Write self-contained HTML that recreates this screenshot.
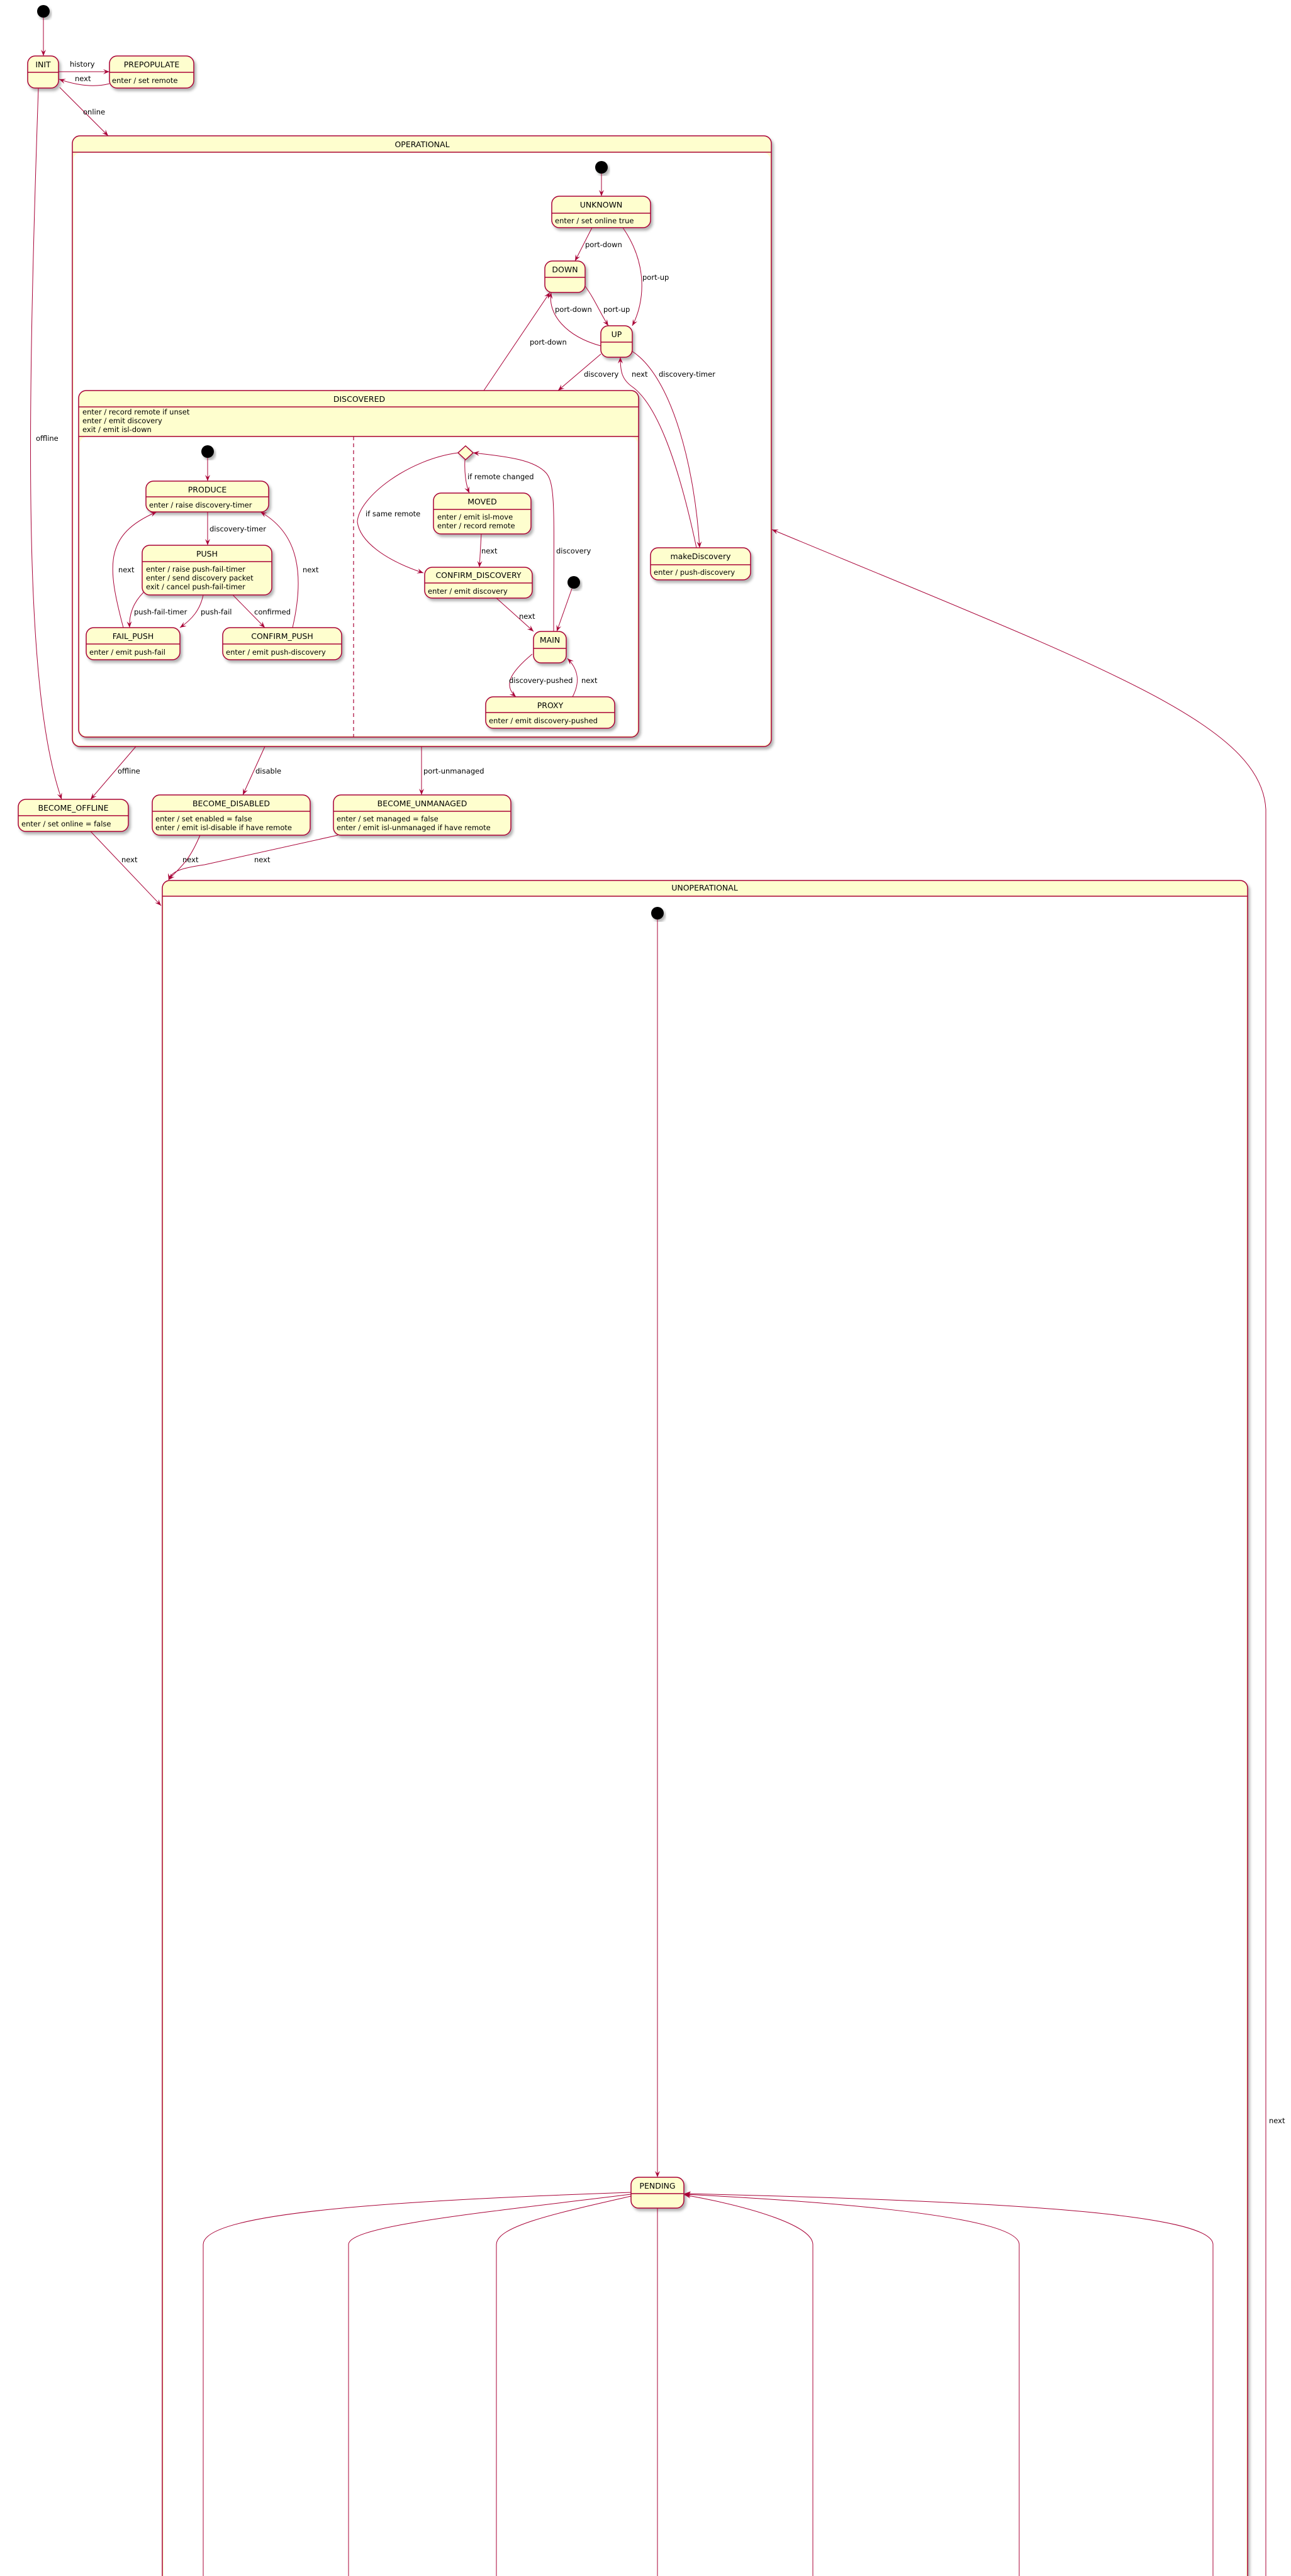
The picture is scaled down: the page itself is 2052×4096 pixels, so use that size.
<!DOCTYPE html>
<html><head><meta charset="utf-8"><style>
html,body{margin:0;padding:0;background:#fff;}
svg{display:block;}
text{font-family:"DejaVu Sans","Liberation Sans",sans-serif;font-size:11.5px;fill:#000;}
.b{fill:#FEFECE;stroke:#A80036;stroke-width:1.5;}
.l{stroke:#A80036;stroke-width:1.5;fill:none;}
.e{stroke:#A80036;stroke-width:1;fill:none;}
.t{font-size:12.5px;}
</style></head><body>
<svg width="2052" height="4096" viewBox="0 0 2052 4096" xmlns="http://www.w3.org/2000/svg">
<defs>
<filter id="sh" x="-10%" y="-10%" width="130%" height="130%"><feDropShadow dx="3" dy="4" stdDeviation="2" flood-color="#000" flood-opacity="0.3"/></filter>
<marker id="a" viewBox="0 0 10 8" refX="10" refY="4" markerWidth="10" markerHeight="8" orient="auto" markerUnits="userSpaceOnUse"><path d="M0,0 L10,4 L0,8 L4,4 z" fill="#A80036"/></marker>
</defs>

<!-- top start -->
<circle cx="69" cy="18" r="10" fill="#000" filter="url(#sh)"/>
<path class="e" d="M69,28 L69,89" marker-end="url(#a)"/>

<!-- INIT -->
<g filter="url(#sh)"><rect class="b" x="44" y="89" width="49" height="51" rx="12"/></g>
<line class="l" x1="44" y1="115" x2="93" y2="115"/>
<text class="t" x="68.5" y="107" text-anchor="middle">INIT</text>

<!-- PREPOPULATE -->
<g filter="url(#sh)"><rect class="b" x="174" y="89" width="134" height="51" rx="12"/></g>
<line class="l" x1="174" y1="115" x2="308" y2="115"/>
<text class="t" x="241" y="107" text-anchor="middle">PREPOPULATE</text>
<text x="178" y="132">enter / set remote</text>

<path class="e" d="M93,114 L174,114" marker-end="url(#a)"/>
<text x="111" y="106">history</text>
<path class="e" d="M174,133 Q140,142 94,126" marker-end="url(#a)"/>
<text x="119" y="129">next</text>

<path class="e" d="M95,139 L172,216" marker-end="url(#a)"/>
<text x="132" y="182">online</text>

<path class="e" d="M61,140 C42,700 38,1100 98,1271" marker-end="url(#a)"/>
<text x="57" y="701">offline</text>

<!-- OPERATIONAL -->
<g filter="url(#sh)"><rect class="b" x="115" y="216" width="1111" height="971" rx="12"/></g>
<rect x="117" y="243" width="1107" height="942" rx="10" fill="#fff"/>
<line class="l" x1="115" y1="242" x2="1226" y2="242"/>
<text class="t" x="671" y="234" text-anchor="middle">OPERATIONAL</text>

<circle cx="956" cy="266" r="10" fill="#000" filter="url(#sh)"/>
<path class="e" d="M956,276 L956,312" marker-end="url(#a)"/>

<g filter="url(#sh)"><rect class="b" x="877" y="312" width="157" height="50" rx="12"/></g>
<line class="l" x1="877" y1="339" x2="1034" y2="339"/>
<text class="t" x="955.5" y="330" text-anchor="middle">UNKNOWN</text>
<text x="882" y="355">enter / set online true</text>

<g filter="url(#sh)"><rect class="b" x="866" y="415" width="64" height="50" rx="12"/></g>
<line class="l" x1="866" y1="441" x2="930" y2="441"/>
<text class="t" x="898" y="433" text-anchor="middle">DOWN</text>

<g filter="url(#sh)"><rect class="b" x="955" y="518" width="50" height="50" rx="12"/></g>
<line class="l" x1="955" y1="544" x2="1005" y2="544"/>
<text class="t" x="980" y="536" text-anchor="middle">UP</text>

<g filter="url(#sh)"><rect class="b" x="1034" y="871" width="159" height="51" rx="12"/></g>
<line class="l" x1="1034" y1="898" x2="1193" y2="898"/>
<text class="t" x="1113.5" y="889" text-anchor="middle">makeDiscovery</text>
<text x="1039" y="914">enter / push-discovery</text>

<path class="e" d="M941,362 L914,415" marker-end="url(#a)"/>
<text x="930" y="393">port-down</text>
<path class="e" d="M990,362 C1030,420 1025,480 1005,518" marker-end="url(#a)"/>
<text x="1021" y="445">port-up</text>
<path class="e" d="M930,455 C945,475 955,500 967,518" marker-end="url(#a)"/>
<text x="959" y="496">port-up</text>
<path class="e" d="M955,550 C900,535 870,500 876,465" marker-end="url(#a)"/>
<text x="882" y="496">port-down</text>
<path class="e" d="M769,621 L874,465" marker-end="url(#a)"/>
<text x="842" y="548">port-down</text>
<path class="e" d="M955,563 L887,621" marker-end="url(#a)"/>
<text x="928" y="599">discovery</text>
<path class="e" d="M1107,871 C1075,720 1040,640 1005,615 C988,603 986,590 986,568" marker-end="url(#a)"/>
<text x="1004" y="599">next</text>
<path class="e" d="M1004,558 C1070,600 1105,750 1112,871" marker-end="url(#a)"/>
<text x="1047" y="599">discovery-timer</text>

<!-- DISCOVERED -->
<g filter="url(#sh)"><rect class="b" x="125" y="621" width="890" height="551" rx="12"/></g>
<rect x="127" y="695" width="886" height="475" rx="10" fill="#fff"/>
<line class="l" x1="125" y1="647" x2="1015" y2="647"/>
<line class="l" x1="125" y1="694" x2="1015" y2="694"/>
<text class="t" x="571" y="639" text-anchor="middle">DISCOVERED</text>
<text x="131" y="659">enter / record remote if unset</text>
<text x="131" y="673">enter / emit discovery</text>
<text x="131" y="687">exit / emit isl-down</text>
<line x1="562" y1="694" x2="562" y2="1172" stroke="#A80036" stroke-width="1.2" stroke-dasharray="6,5"/>

<circle cx="330" cy="718" r="10" fill="#000" filter="url(#sh)"/>
<path class="e" d="M330,728 L330,765" marker-end="url(#a)"/>

<g filter="url(#sh)"><rect class="b" x="232" y="765" width="195" height="49" rx="12"/></g>
<line class="l" x1="232" y1="790" x2="427" y2="790"/>
<text class="t" x="329.5" y="783" text-anchor="middle">PRODUCE</text>
<text x="237" y="807">enter / raise discovery-timer</text>

<g filter="url(#sh)"><rect class="b" x="226" y="867" width="206" height="79" rx="12"/></g>
<line class="l" x1="226" y1="893" x2="432" y2="893"/>
<text class="t" x="329" y="885" text-anchor="middle">PUSH</text>
<text x="232" y="909">enter / raise push-fail-timer</text>
<text x="232" y="923">enter / send discovery packet</text>
<text x="232" y="937">exit / cancel push-fail-timer</text>

<g filter="url(#sh)"><rect class="b" x="137" y="998" width="149" height="51" rx="12"/></g>
<line class="l" x1="137" y1="1024" x2="286" y2="1024"/>
<text class="t" x="211.5" y="1016" text-anchor="middle">FAIL_PUSH</text>
<text x="142" y="1041">enter / emit push-fail</text>

<g filter="url(#sh)"><rect class="b" x="354" y="998" width="189" height="51" rx="12"/></g>
<line class="l" x1="354" y1="1024" x2="543" y2="1024"/>
<text class="t" x="448.5" y="1016" text-anchor="middle">CONFIRM_PUSH</text>
<text x="359" y="1041">enter / emit push-discovery</text>

<path class="e" d="M330,814 L330,867" marker-end="url(#a)"/>
<text x="333" y="845">discovery-timer</text>
<path class="e" d="M228,942 C210,960 205,980 206,998" marker-end="url(#a)"/>
<text x="213" y="977">push-fail-timer</text>
<path class="e" d="M323,946 C318,970 305,985 286,998" marker-end="url(#a)"/>
<text x="319" y="977">push-fail</text>
<path class="e" d="M370,946 L421,998" marker-end="url(#a)"/>
<text x="404" y="977">confirmed</text>
<path class="e" d="M196,998 C170,900 165,850 249,814" marker-end="url(#a)"/>
<text x="188" y="910">next</text>
<path class="e" d="M465,998 C490,890 460,840 414,814" marker-end="url(#a)"/>
<text x="481" y="910">next</text>

<!-- right region -->
<path d="M740,709 L752,720 L740,731 L728,720 z" fill="#FEFECE" stroke="#A80036" stroke-width="1.5" filter="url(#sh)"/>

<g filter="url(#sh)"><rect class="b" x="689" y="784" width="155" height="65" rx="12"/></g>
<line class="l" x1="689" y1="810" x2="844" y2="810"/>
<text class="t" x="766.5" y="802" text-anchor="middle">MOVED</text>
<text x="695" y="826">enter / emit isl-move</text>
<text x="695" y="840">enter / record remote</text>

<g filter="url(#sh)"><rect class="b" x="675" y="902" width="171" height="49" rx="12"/></g>
<line class="l" x1="675" y1="927" x2="846" y2="927"/>
<text class="t" x="760.5" y="919" text-anchor="middle">CONFIRM_DISCOVERY</text>
<text x="680" y="944">enter / emit discovery</text>

<circle cx="912" cy="926" r="10" fill="#000" filter="url(#sh)"/>

<g filter="url(#sh)"><rect class="b" x="848" y="1004" width="52" height="50" rx="12"/></g>
<line class="l" x1="848" y1="1031" x2="900" y2="1031"/>
<text class="t" x="874" y="1022" text-anchor="middle">MAIN</text>

<g filter="url(#sh)"><rect class="b" x="772" y="1108" width="205" height="50" rx="12"/></g>
<line class="l" x1="772" y1="1133" x2="977" y2="1133"/>
<text class="t" x="874.5" y="1126" text-anchor="middle">PROXY</text>
<text x="777" y="1150">enter / emit discovery-pushed</text>

<path class="e" d="M739,731 C738,750 740,770 746,784" marker-end="url(#a)"/>
<text x="743" y="762">if remote changed</text>
<path class="e" d="M728,720 C650,730 570,790 568,830 C572,860 610,890 673,911" marker-end="url(#a)"/>
<text x="581" y="821">if same remote</text>
<path class="e" d="M765,849 L762,902" marker-end="url(#a)"/>
<text x="765" y="880">next</text>
<path class="e" d="M789,951 L848,1004" marker-end="url(#a)"/>
<text x="825" y="984">next</text>
<path class="e" d="M909,936 L885,1004" marker-end="url(#a)"/>
<path class="e" d="M880,1004 C880,820 884,770 868,752 C850,732 810,726 752,720" marker-end="url(#a)"/>
<text x="884" y="880">discovery</text>
<path class="e" d="M846,1040 C810,1070 800,1090 820,1108" marker-end="url(#a)"/>
<text x="809" y="1086">discovery-pushed</text>
<path class="e" d="M910,1108 C925,1080 915,1060 902,1047" marker-end="url(#a)"/>
<text x="924" y="1086">next</text>

<!-- BECOME states -->
<path class="e" d="M216,1187 L144,1271" marker-end="url(#a)"/>
<text x="187" y="1230">offline</text>
<path class="e" d="M421,1187 L386,1264" marker-end="url(#a)"/>
<text x="406" y="1230">disable</text>
<path class="e" d="M670,1187 L670,1264" marker-end="url(#a)"/>
<text x="673" y="1230">port-unmanaged</text>

<g filter="url(#sh)"><rect class="b" x="29" y="1271" width="175" height="51" rx="12"/></g>
<line class="l" x1="29" y1="1297" x2="204" y2="1297"/>
<text class="t" x="116.5" y="1289" text-anchor="middle">BECOME_OFFLINE</text>
<text x="34" y="1314">enter / set online = false</text>

<g filter="url(#sh)"><rect class="b" x="242" y="1264" width="251" height="64" rx="12"/></g>
<line class="l" x1="242" y1="1290" x2="493" y2="1290"/>
<text class="t" x="367.5" y="1282" text-anchor="middle">BECOME_DISABLED</text>
<text x="247" y="1306">enter / set enabled = false</text>
<text x="247" y="1320">enter / emit isl-disable if have remote</text>

<g filter="url(#sh)"><rect class="b" x="530" y="1264" width="282" height="64" rx="12"/></g>
<line class="l" x1="530" y1="1290" x2="812" y2="1290"/>
<text class="t" x="671" y="1282" text-anchor="middle">BECOME_UNMANAGED</text>
<text x="535" y="1306">enter / set managed = false</text>
<text x="535" y="1320">enter / emit isl-unmanaged if have remote</text>

<path class="e" d="M144,1322 L256,1440" marker-end="url(#a)"/>
<text x="193" y="1371">next</text>
<path class="e" d="M318,1328 C300,1370 290,1375 268,1399" marker-end="url(#a)"/>
<text x="290" y="1371">next</text>
<path class="e" d="M537,1328 L325,1375 C290,1380 272,1385 268,1399" marker-end="url(#a)"/>
<text x="404" y="1371">next</text>

<!-- UNOPERATIONAL -->
<g filter="url(#sh)"><rect class="b" x="258" y="1400" width="1725" height="2750" rx="12"/></g>
<rect x="260" y="1426" width="1721" height="2700" fill="#fff"/>
<line class="l" x1="258" y1="1425" x2="1983" y2="1425"/>
<text class="t" x="1120" y="1416" text-anchor="middle">UNOPERATIONAL</text>

<circle cx="1045" cy="1452" r="10" fill="#000" filter="url(#sh)"/>
<path class="e" d="M1045,1462 L1045,3462" marker-end="url(#a)"/>

<g filter="url(#sh)"><rect class="b" x="1003" y="3462" width="84" height="49" rx="12"/></g>
<line class="l" x1="1003" y1="3488" x2="1087" y2="3488"/>
<text class="t" x="1045" y="3480" text-anchor="middle">PENDING</text>
<path class="e" d="M1045,3511 L1045,4096"/>

<path class="e" d="M1003,3486 C600,3500 323,3520 323,3569 L323,4096"/>
<path class="e" d="M1003,3489 C750,3520 554,3540 554,3569 L554,4096"/>
<path class="e" d="M1003,3492 C880,3520 789,3540 789,3569 L789,4096"/>
<path class="e" d="M1292,4096 L1292,3569 C1292,3540 1200,3510 1088,3490" marker-end="url(#a)"/>
<path class="e" d="M1620,4096 L1620,3569 C1620,3530 1400,3505 1088,3489" marker-end="url(#a)"/>
<path class="e" d="M1928,4096 L1928,3569 C1928,3520 1600,3500 1088,3488" marker-end="url(#a)"/>

<!-- next back to OPERATIONAL -->
<path class="e" d="M2012,4096 L2012,1287 C2005,1150 1750,1060 1227,842" marker-end="url(#a)"/>
<text x="2017" y="3376">next</text>
</svg>
</body></html>
